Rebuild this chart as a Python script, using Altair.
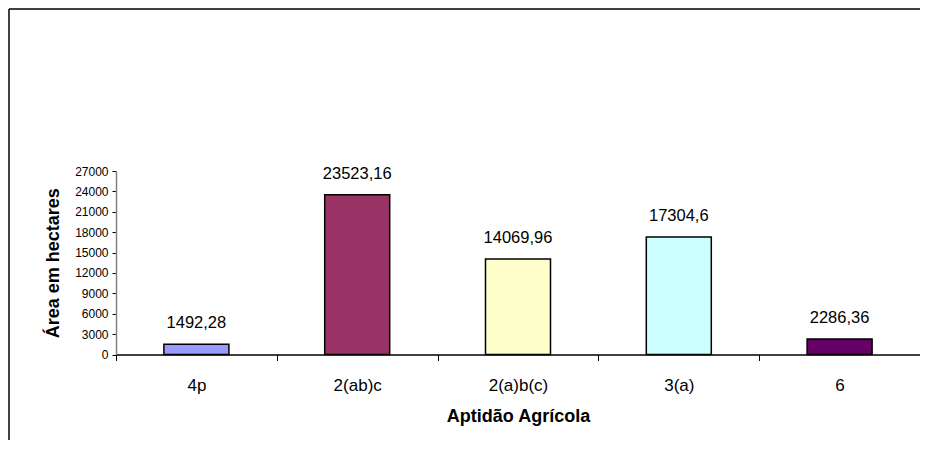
import altair as alt
import pandas as pd

categories = ["4p", "2(ab)c", "2(a)b(c)", "3(a)", "6"]
values = [1492.28, 23523.16, 14069.96, 17304.6, 2286.36]
labels = ["1492,28", "23523,16", "14069,96", "17304,6", "2286,36"]
colors = ["#9999FF", "#993366", "#FFFFCC", "#CCFFFF", "#660066"]
y_ticks = [0, 3000, 6000, 9000, 12000, 15000, 18000, 21000, 24000, 27000]

df = pd.DataFrame({"cat": categories, "val": values, "lab": labels})
FONT = "Liberation Sans"

x = alt.X("cat:N", sort=categories,
          scale=alt.Scale(paddingInner=0, paddingOuter=0),
          axis=alt.Axis(title="Aptidão Agrícola", labelAngle=0, tickBand="extent",
                        labelFont=FONT, labelFontSize=17, labelColor="black",
                        labelPadding=17, titleFont=FONT, titleFontSize=18,
                        titleFontWeight="bold", titleColor="black", titlePadding=14,
                        domainColor="black", domainWidth=1.5, tickColor="black",
                        tickSize=6, tickWidth=1))
y = alt.Y("val:Q", scale=alt.Scale(domain=[0, 27000], nice=False),
          axis=alt.Axis(title="Área em hectares", values=y_ticks, grid=False,
                        format="d",
                        labelFont=FONT, labelFontSize=12, labelColor="black",
                        labelPadding=4, titleFont=FONT, titleFontSize=18,
                        titleFontWeight="bold", titleColor="black", titlePadding=12,
                        domainColor="#808080", domainWidth=1.5, tickColor="black",
                        tickSize=4))

bars = alt.Chart(df).mark_bar(width=65, stroke="black", strokeWidth=1.5).encode(
    x=x, y=y,
    color=alt.Color("cat:N", sort=categories,
                    scale=alt.Scale(domain=categories, range=colors), legend=None),
)
text = alt.Chart(df).mark_text(font=FONT, fontSize=16.5, dy=-21, baseline="middle",
                               color="black").encode(
    x=x, y=y, text="lab:N")

one = pd.DataFrame({"a": [0]})
border_top = alt.Chart(one).mark_rule(color="black", strokeWidth=1.5).encode(
    x=alt.value(-107), x2=alt.value(900), y=alt.value(-162))
border_left = alt.Chart(one).mark_rule(color="black", strokeWidth=1.5).encode(
    x=alt.value(-107), y=alt.value(-162), y2=alt.value(500))

chart = alt.layer(bars, text, border_top, border_left).properties(
    width=804, height=183.5,
    autosize=alt.AutoSizeParams(type="none"),
    padding={"left": 108, "top": 163, "right": 0, "bottom": 85},
).configure_view(stroke=None)

chart.save("out.html", embed_options={"renderer": "svg", "actions": False})
